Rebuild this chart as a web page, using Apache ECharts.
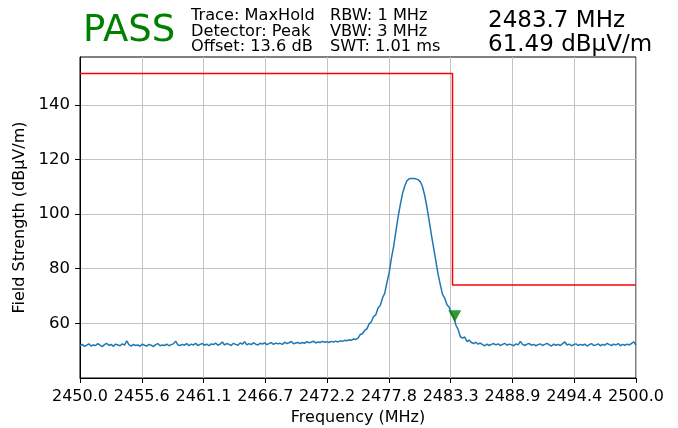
<!DOCTYPE html>
<html><head><meta charset="utf-8">
<script src="https://cdn.jsdelivr.net/npm/echarts@6/dist/echarts.min.js"></script>
<style>html,body{margin:0;padding:0;background:#fff}#c{width:678px;height:428px}</style>
</head><body><div id="c"></div>
<script>
// Sweep grid
const freqStart = 2450.0;
const freqStep = 0.2;
// Trace values (dBµV/m), one per sweep point 2450.0 ... 2500.0
const traceValues = [
51.8,52.3,51.6,52.0,52.5,51.7,52.1,51.9,52.6,52.0,
51.5,52.2,52.7,51.9,52.3,51.6,52.4,52.1,51.8,52.5,
52.0,53.6,52.2,51.7,52.3,51.9,52.1,51.6,52.4,52.0,
51.7,52.3,52.0,51.5,52.2,52.6,51.8,52.1,51.9,52.4,
51.8,52.2,52.5,53.5,52.1,51.9,52.3,52.0,52.6,51.8,
52.4,52.1,52.7,51.9,52.3,52.6,52.0,52.4,51.8,52.5,
52.2,52.8,52.0,52.4,53.2,52.1,52.6,52.3,51.9,52.7,
52.3,52.0,52.8,52.4,53.3,52.1,52.6,52.2,52.9,52.4,
52.1,52.7,52.4,52.9,52.2,52.6,53.0,52.3,52.8,52.5,
52.7,52.3,53.1,52.6,52.9,53.4,52.5,52.8,53.0,52.6,
53.0,52.7,53.3,52.9,53.1,53.5,52.8,53.2,53.0,53.4,
53.1,53.3,53.0,53.4,53.2,
53.5,53.2,53.6,53.4,53.8,53.6,54.0,53.8,54.3,54.1,
54.6,55.9,56.2,57.4,58.0,59.8,60.6,62.5,63.1,65.6,
66.5,69.3,71.0,74.9,78.5,83.8,88.0,93.5,98.8,103.4,
107.4,110.2,112.2,112.9,113.0,113.0,112.9,112.6,111.9,110.0,
106.8,102.5,97.6,92.4,87.6,82.9,78.0,74.2,70.6,69.2,
66.8,65.9,63.5,62.6,59.4,57.8,55.1,54.6,55.0,53.3,
53.9,53.0,52.6,53.1,52.4,52.8,52.2,51.8,52.4,51.9,
52.3,
52.6,52.1,52.5,51.9,52.3,52.7,52.0,52.4,52.2,51.8,
52.5,52.1,53.4,52.3,51.9,52.4,52.6,52.0,52.3,51.8,
52.2,52.5,51.9,52.3,52.7,52.1,51.7,52.4,52.0,52.3,
51.9,52.6,53.2,52.1,52.4,51.8,52.2,52.5,51.9,52.3,
52.0,52.4,51.7,52.2,52.6,51.9,52.1,52.5,51.8,52.3,
52.0,52.7,52.2,51.9,52.4,52.1,52.6,51.8,52.3,52.0,
52.4,52.1,52.7,53.2,52.0
];
// Limit line
const limitFreq = [2450.0, 2483.5, 2483.5, 2500.0];
const limitLevel = [151.5, 151.5, 74.0, 74.0];
// Marker
const markerFreq = [2483.7];
const markerLevel = [61.49];
// Axes
const xMin = 2450.0, xMax = 2500.0, xDivisions = 9;
const yTicks = [60, 80, 100, 120, 140];
// Header texts
const verdict = 'PASS';
const headerLeft = ['Trace: MaxHold', 'Detector: Peak', 'Offset: 13.6 dB'];
const headerMid = ['RBW: 1 MHz', 'VBW: 3 MHz', 'SWT: 1.01 ms'];
const headerRight = ['2483.7 MHz', '61.49 dBµV/m'];

const FONT = 'DejaVu Sans';
const traceData = traceValues.map((v, i) => [+(freqStart + i * freqStep).toFixed(2), v]);
const limitData = limitFreq.map((f, i) => [f, limitLevel[i]]);
const markerData = markerFreq.map((f, i) => [f, markerLevel[i]]);

const chart = echarts.init(document.getElementById('c'), null, {renderer: 'canvas'});
const graphics = [];
graphics.push({type: 'text', left: 83, top: 13, style: {text: verdict, fill: '#008000', font: '37px "DejaVu Sans"'}});
headerLeft.forEach((t, i) => graphics.push({type: 'text', left: 191, top: 8 + i * 15.5, style: {text: t, fill: '#000', font: '16.2px "DejaVu Sans"'}}));
headerMid.forEach((t, i) => graphics.push({type: 'text', left: 330, top: 8 + i * 15.5, style: {text: t, fill: '#000', font: '16.2px "DejaVu Sans"'}}));
headerRight.forEach((t, i) => graphics.push({type: 'text', left: 488, top: 10 + i * 24, style: {text: t, fill: '#000', font: '23px "DejaVu Sans"'}}));

chart.setOption({
  animation: false,
  backgroundColor: '#fff',
  textStyle: {fontFamily: FONT},
  grid: {left: 80, right: 42, top: 57, bottom: 50, show: true, borderColor: '#000', borderWidth: 1,
    backgroundColor: 'transparent', containLabel: false, outerBoundsMode: 'none'},
  xAxis: {
    type: 'value', min: xMin, max: xMax, interval: (xMax - xMin) / xDivisions,
    name: 'Frequency (MHz)', nameLocation: 'middle', nameGap: 29,
    nameTextStyle: {fontSize: 16, color: '#000', fontFamily: FONT},
    axisLine: {show: true, lineStyle: {color: '#000', width: 1}},
    axisTick: {show: true, inside: false, length: 5, lineStyle: {color: '#000', width: 1}},
    axisLabel: {fontSize: 16, color: '#000', margin: 11, fontFamily: FONT, showMinLabel: true, showMaxLabel: true,
      formatter: v => v.toFixed(1)},
    splitLine: {show: true, lineStyle: {color: '#c3c3c3', width: 1}}
  },
  yAxis: {
    type: 'value', min: 40, max: 157.5, interval: 20,
    name: 'Field Strength (dBµV/m)', nameLocation: 'middle', nameGap: 50,
    nameTextStyle: {fontSize: 16, color: '#000', fontFamily: FONT},
    axisLine: {show: true, lineStyle: {color: '#000', width: 1}},
    axisTick: {show: true, inside: false, length: 5, lineStyle: {color: '#000', width: 1},
      customValues: yTicks},
    axisLabel: {fontSize: 16.5, color: '#000', margin: 10, fontFamily: FONT,
      customValues: yTicks, formatter: v => String(v)},
    splitLine: {show: true, lineStyle: {color: '#c3c3c3', width: 1}}
  },
  series: [
    {type: 'line', data: traceData, showSymbol: false, symbol: 'none', lineStyle: {color: '#1f77b4', width: 1.5}, z: 3},
    {type: 'line', data: limitData, showSymbol: false, symbol: 'none', lineStyle: {color: '#ff0000', width: 1.5}, z: 2},
    {type: 'scatter', data: markerData, symbol: 'triangle', symbolRotate: 180, symbolSize: [13, 12], symbolOffset: [0, -3],
      itemStyle: {color: '#008000'}, z: 4}
  ],
  graphic: graphics
});
</script></body></html>
